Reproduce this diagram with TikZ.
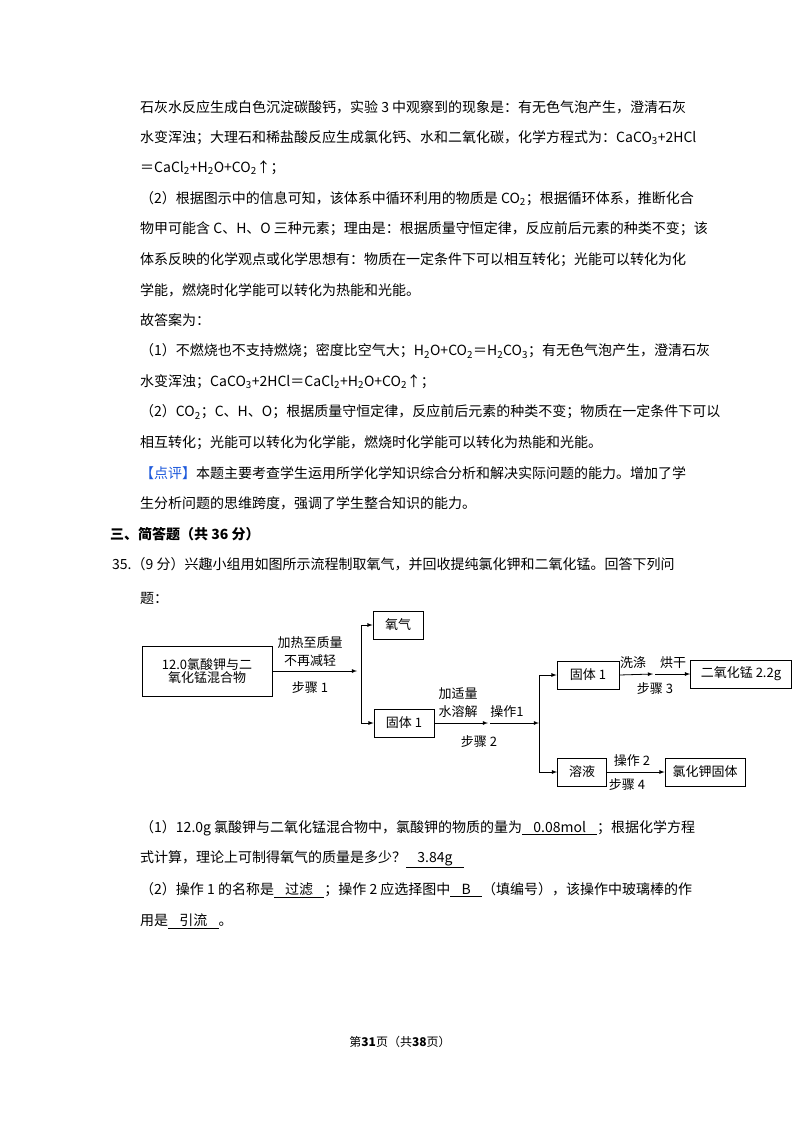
\documentclass[tikz,border=0pt]{standalone}
\usepackage{fontspec}
\setmainfont{Noto Sans CJK SC}
\usepackage{tikz}
\usetikzlibrary{positioning, arrows}
\tikzset{
    x=1pt, y=-1pt, % one unit is one pixel of the page
    >=latex, % filled arrow heads
    line/.style={anchor=west, inner sep=0pt, font=\fontsize{14}{15}\selectfont}, % a line of text
    box/.style={draw, thick, minimum height=28pt, inner sep=2pt, font=\fontsize{13}{13}\selectfont}, % boxes in the flowchart
    lab/.style={inner sep=0pt, font=\fontsize{13}{13}\selectfont}, % labels at the arrows
    flow/.style={->, thick}, % arrows in the flowchart
}
\newcommand{\sub}[1]{\textsubscript{#1}}
\newcommand{\blank}[1]{\underline{\hspace{0.8em}#1\hspace{0.8em}}}
\begin{document}
\begin{tikzpicture}
    \useasboundingbox[fill=white] (0,0) rectangle (800,1132);

    % the text above the flowchart
    \node[line] (l1) at (140,107) {石灰水反应生成白色沉淀碳酸钙，实验 3 中观察到的现象是：有无色气泡产生，澄清石灰};
    \node[line] (l2) at (140,137.5) {水变浑浊；大理石和稀盐酸反应生成氯化钙、水和二氧化碳，化学方程式为：CaCO\sub{3}+2HCl};
    \node[line] (l3) at (140,168) {＝CaCl\sub{2}+H\sub{2}O+CO\sub{2}↑；};
    \node[line] (l4) at (140,198.5) {（2）根据图示中的信息可知，该体系中循环利用的物质是 CO\sub{2}；根据循环体系，推断化合};
    \node[line] (l5) at (140,229) {物甲可能含 C、H、O 三种元素；理由是：根据质量守恒定律，反应前后元素的种类不变；该};
    \node[line] (l6) at (140,259.5) {体系反映的化学观点或化学思想有：物质在一定条件下可以相互转化；光能可以转化为化};
    \node[line] (l7) at (140,290) {学能，燃烧时化学能可以转化为热能和光能。};
    \node[line] (l8) at (140,320.5) {故答案为：};
    \node[line] (l9) at (140,351) {（1）不燃烧也不支持燃烧；密度比空气大；H\sub{2}O+CO\sub{2}＝H\sub{2}CO\sub{3}；有无色气泡产生，澄清石灰};
    \node[line] (l10) at (140,381.5) {水变浑浊；CaCO\sub{3}+2HCl＝CaCl\sub{2}+H\sub{2}O+CO\sub{2}↑；};
    \node[line] (l11) at (140,412) {（2）CO\sub{2}；C、H、O；根据质量守恒定律，反应前后元素的种类不变；物质在一定条件下可以};
    \node[line] (l12) at (140,442.5) {相互转化；光能可以转化为化学能，燃烧时化学能可以转化为热能和光能。};
    \node[line] (l13) at (140,473) {\textcolor[RGB]{30,90,220}{【点评】}本题主要考查学生运用所学化学知识综合分析和解决实际问题的能力。增加了学};
    \node[line] (l14) at (140,503.5) {生分析问题的思维跨度，强调了学生整合知识的能力。};
    \node[line] (l15) at (110,534) {\textbf{三、简答题（共 36 分）}};
    \node[line] (l16) at (112,564) {35.（9 分）兴趣小组用如图所示流程制取氧气，并回收提纯氯化钾和二氧化锰。回答下列问};
    \node[line] (l17) at (140,598) {题：};

    % the flowchart
    \node[box, minimum width=130pt, minimum height=50pt, align=center] (mix) at (207,671) {12.0氯酸钾与二\\氧化锰混合物};
    \node[box, minimum width=50pt] (o2) at (398,625) {氧气};
    \node[box, minimum width=60pt] (s1) at (404,723) {固体 1};
    \node[box, minimum width=62pt] (s2) at (588,675) {固体 1};
    \node[box, minimum width=49pt] (sol) at (582,772) {溶液};
    \node[box, minimum width=101pt] (mno2) at (741,674) {二氧化锰 2.2g};
    \node[box, minimum width=80pt] (kcl) at (705,772) {氯化钾固体};

    \coordinate (j1) at (361,671);
    \coordinate (j2) at (539,723);
    \coordinate (m2) at (488,723);
    \coordinate (m3) at (653,674);
    \draw[flow] (mix.east) -- (357,671);
    \draw[thick] (j1 |- o2.west) -- (j1 |- s1.west);
    \draw[flow] (j1 |- o2.west) -- (o2.west);
    \draw[flow] (j1 |- s1.west) -- (s1.west);
    \draw[flow] (s1.east) -- (m2);
    \draw[flow] (490,723) -- (j2);
    \draw[thick] (j2 |- s2.west) -- (j2 |- sol.west);
    \draw[flow] (j2 |- s2.west) -- (s2.west);
    \draw[flow] (j2 |- sol.west) -- (sol.west);
    \draw[flow] (s2.east) -- (m3);
    \draw[flow] (655,674) -- (mno2.west);
    \draw[flow] (sol.east) -- (kcl.west);

    \node[lab] (t1) at (310,643) {加热至质量};
    \node[lab] (t2) at (310,661) {不再减轻};
    \node[lab] (t3) at (310,688) {步骤 1};
    \node[lab] (t4) at (458,694) {加适量};
    \node[lab] (t5) at (458,712) {水溶解};
    \node[lab] (t6) at (507,712) {操作1};
    \node[lab] (t7) at (479,742) {步骤 2};
    \node[lab] (t8) at (633,663) {洗涤};
    \node[lab] (t9) at (673,663) {烘干};
    \node[lab] (t10) at (655,689) {步骤 3};
    \node[lab] (t11) at (632,761) {操作 2};
    \node[lab] (t12) at (627,785) {步骤 4};

    % the questions below it
    \node[line] (q1) at (140,828) {（1）12.0g 氯酸钾与二氧化锰混合物中，氯酸钾的物质的量为\blank{0.08mol}；根据化学方程};
    \node[line] (q2) at (140,859) {式计算，理论上可制得氧气的质量是多少？\blank{3.84g}};
    \node[line] (q3) at (140,890) {（2）操作 1 的名称是\blank{过滤}；操作 2 应选择图中\blank{B}（填编号），该操作中玻璃棒的作};
    \node[line] (q4) at (140,921) {用是\blank{引流}。};

    \node[inner sep=0pt, font=\fontsize{12}{12}\selectfont] (foot) at (400,1042) {第\textbf{31}页（共\textbf{38}页）};
\end{tikzpicture}
\end{document}
